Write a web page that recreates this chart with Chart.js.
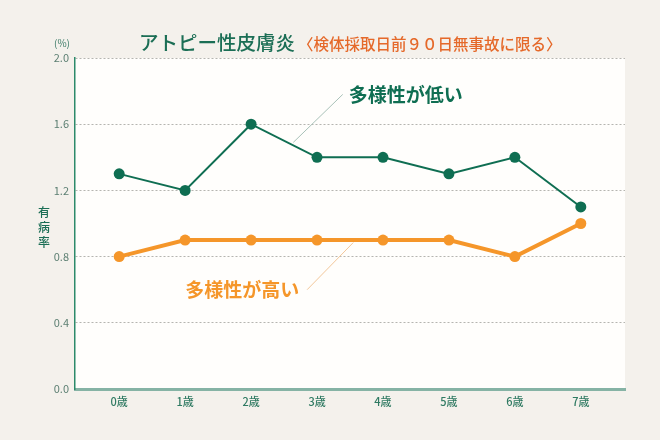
<!DOCTYPE html>
<html>
<head>
<meta charset="utf-8">
<script src="https://cdn.jsdelivr.net/npm/chart.js@4.4.0/dist/chart.umd.min.js"></script>
<style>
  html, body { margin: 0; padding: 0; background: #f4f1ec; }
  #wrap { width: 660px; height: 440px; position: relative; }
</style>
</head>
<body>
<div id="wrap"><canvas id="lineChart" width="660" height="440"></canvas></div>
<script>
// データ
var ageLabels = ['0歳', '1歳', '2歳', '3歳', '4歳', '5歳', '6歳', '7歳'];
var lowDiversity = [1.3, 1.2, 1.6, 1.4, 1.4, 1.3, 1.4, 1.1];   // 多様性が低い
var highDiversity = [0.8, 0.9, 0.9, 0.9, 0.9, 0.9, 0.8, 1.0];  // 多様性が高い
var yTicks = [0.0, 0.4, 0.8, 1.2, 1.6, 2.0];

var GREEN = '#0f6e52';
var ORANGE = '#f5962a';
var FONT = '"Noto Sans CJK JP", "Noto Sans", sans-serif';

function toPoints(arr) {
    return arr.map(function(v, i) { return { x: i, y: v }; });
}

// 背景・タイトル・注記
var decoPlugin = {
    id: 'deco',
    beforeDraw: function(chart) {
        var ctx = chart.ctx, a = chart.chartArea;
        ctx.save();
        ctx.fillStyle = '#f4f1ec';
        ctx.fillRect(0, 0, chart.width, chart.height);
        ctx.fillStyle = '#fffefc';
        ctx.fillRect(a.left, a.top, a.right - a.left, a.bottom - a.top);
        ctx.restore();
    },
    afterDraw: function(chart) {
        var ctx = chart.ctx;
        var xs = chart.scales.x, ys = chart.scales.y;
        var px = function(v) { return xs.getPixelForValue(v); };
        var py = function(v) { return ys.getPixelForValue(v); };
        ctx.save();
        ctx.textBaseline = 'middle';

        // タイトル
        ctx.textAlign = 'left';
        ctx.fillStyle = '#1b6e55';
        ctx.font = '500 19.5px ' + FONT;
        ctx.fillText('アトピー性皮膚炎', 139, 43);
        ctx.fillStyle = '#e5692a';
        ctx.font = '500 15.5px ' + FONT;
        ctx.fillText('〈検体採取日前９０日無事故に限る〉', 298, 44);

        // 単位
        ctx.fillStyle = '#3e7c68';
        ctx.font = '10px ' + FONT;
        ctx.textAlign = 'center';
        ctx.fillText('(%)', 62, 43);

        // 軸タイトル(縦書き)
        ctx.font = '500 12px ' + FONT;
        ctx.fillStyle = '#1b6e55';
        ['有', '病', '率'].forEach(function(c, i) {
            ctx.fillText(c, 44, 212 + i * 15);
        });

        // 注記の引き出し線
        ctx.lineWidth = 1;
        ctx.strokeStyle = '#a9c2b9';
        ctx.beginPath();
        ctx.moveTo(px(3.39), py(1.78));
        ctx.lineTo(px(2.64), py(1.49));
        ctx.stroke();
        ctx.strokeStyle = '#f3c79a';
        ctx.beginPath();
        ctx.moveTo(px(2.85), py(0.6));
        ctx.lineTo(px(3.55), py(0.885));
        ctx.stroke();

        // 注記
        ctx.textAlign = 'left';
        ctx.font = 'bold 19px ' + FONT;
        ctx.fillStyle = GREEN;
        ctx.fillText('多様性が低い', px(3.48), py(1.78));
        ctx.fillStyle = ORANGE;
        ctx.fillText('多様性が高い', px(1.0), py(0.6));
        ctx.restore();
    }
};

var chartCanvas = document.getElementById('lineChart').getContext('2d');

var lineChart = new Chart(chartCanvas, {
    type: 'line',
    data: {
        datasets: [{
            label: '多様性が高い',
            data: toPoints(highDiversity),
            borderColor: ORANGE,
            backgroundColor: ORANGE,
            borderWidth: 4,
            pointRadius: 5.5,
            pointBorderWidth: 0,
            tension: 0
        }, {
            label: '多様性が低い',
            data: toPoints(lowDiversity),
            borderColor: GREEN,
            backgroundColor: GREEN,
            borderWidth: 2,
            pointRadius: 5.5,
            pointBorderWidth: 0,
            tension: 0
        }]
    },
    options: {
        responsive: false,
        animation: false,
        layout: { padding: { top: 58, right: 35, left: 0, bottom: 0 } },
        plugins: {
            legend: { display: false },
            tooltip: { enabled: false }
        },
        scales: {
            x: {
                type: 'linear',
                min: -0.67,
                max: 7.67,
                afterFit: function(s) { s.height = 51; },
                afterBuildTicks: function(s) {
                    s.ticks = ageLabels.map(function(l, i) { return { value: i }; });
                },
                ticks: {
                    padding: 6,
                    color: '#2f7a62',
                    font: { size: 11, family: FONT, weight: '500' },
                    callback: function(v) { return ageLabels[v]; }
                },
                grid: { display: false, drawTicks: false },
                border: { display: true, color: '#86b3a5', width: 3 }
            },
            y: {
                min: 0,
                max: 2.0,
                afterFit: function(s) { s.width = 75; },
                afterBuildTicks: function(s) {
                    s.ticks = yTicks.map(function(v) { return { value: v }; });
                },
                ticks: {
                    padding: 6,
                    color: '#5c7f72',
                    font: { size: 11, family: FONT },
                    callback: function(v) { return v.toFixed(1); }
                },
                grid: {
                    color: '#b5b5b0',
                    lineWidth: 1,
                    drawTicks: false
                },
                // dash は v4 ではグリッド線に効く
                border: { display: true, color: '#2c8a6a', width: 1.5, dash: [2, 2] }
            }
        }
    },
    plugins: [decoPlugin]
});
</script>
</body>
</html>
